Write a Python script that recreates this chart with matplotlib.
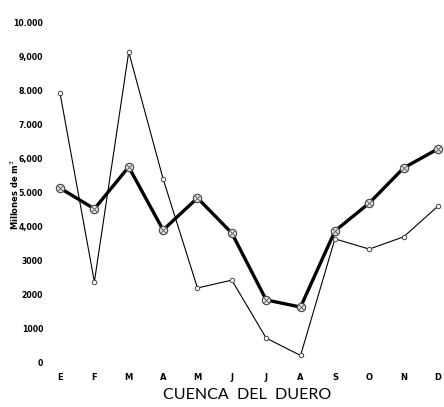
import matplotlib
matplotlib.use('Agg')
import matplotlib.pyplot as plt

# Caudales mensuales, cuenca del Duero (millones de m3)
months = ['E', 'F', 'M', 'A', 'M', 'J', 'J', 'A', 'S', 'O', 'N', 'D']
mean_flow = [5130, 4520, 5750, 3900, 4840, 3810, 1850, 1640, 3870, 4690, 5720, 6280]
year_flow = [7920, 2380, 9120, 5400, 2200, 2430, 730, 220, 3640, 3340, 3700, 4600]

y_ticks = [0, 1000, 2000, 3000, 4000, 5000, 6000, 7000, 8000, 9000, 10000]
y_labels = ['0', '1000', '2000', '3000', '4,000', '5.000', '6,000',
            '7.000', '8.000', '9,000', '10.000']

fig = plt.figure(figsize=(4.44, 4.07), dpi=100)
ax = fig.add_axes([60 / 444, 1 - 363 / 407, 378 / 444, 341 / 407])

x = list(range(len(months)))

ax.plot(x, year_flow, color='black', lw=0.8, marker='o', ms=3.2,
        mfc='white', mec='#444444', mew=0.7, clip_on=False, zorder=2)
ax.plot(x, mean_flow, color='black', lw=2.4, solid_capstyle='round',
        marker='o', ms=6, mfc='#e0e0e0', mec='#444444', mew=0.8,
        clip_on=False, zorder=3)
ax.plot(x, mean_flow, ls='none', marker='x', ms=4, mec='#555555',
        mew=0.6, clip_on=False, zorder=4)

ax.set_xlim(0, 11)
ax.set_ylim(0, 10000)
ax.set_xticks(x)
ax.set_xticklabels(months, fontsize=6, fontweight='bold')
ax.set_yticks(y_ticks)
ax.set_yticklabels(y_labels, fontsize=5.6, fontweight='bold')
ax.tick_params(length=0)
ax.tick_params(axis='x', pad=7)
ax.tick_params(axis='y', pad=12)
for s in ax.spines.values():
    s.set_visible(False)

fig.text(15 / 444, 1 - 195 / 407, 'Millones de m$^3$', rotation=90,
         ha='center', va='center', fontsize=6, fontweight='bold')

fig.text(247 / 444, 1 - 395 / 407, 'CUENCA  DEL  DUERO', ha='center',
         va='center', fontsize=11.5, color='black', family='Lato',
         fontweight='normal')

fig.savefig('out.png', dpi=100)
